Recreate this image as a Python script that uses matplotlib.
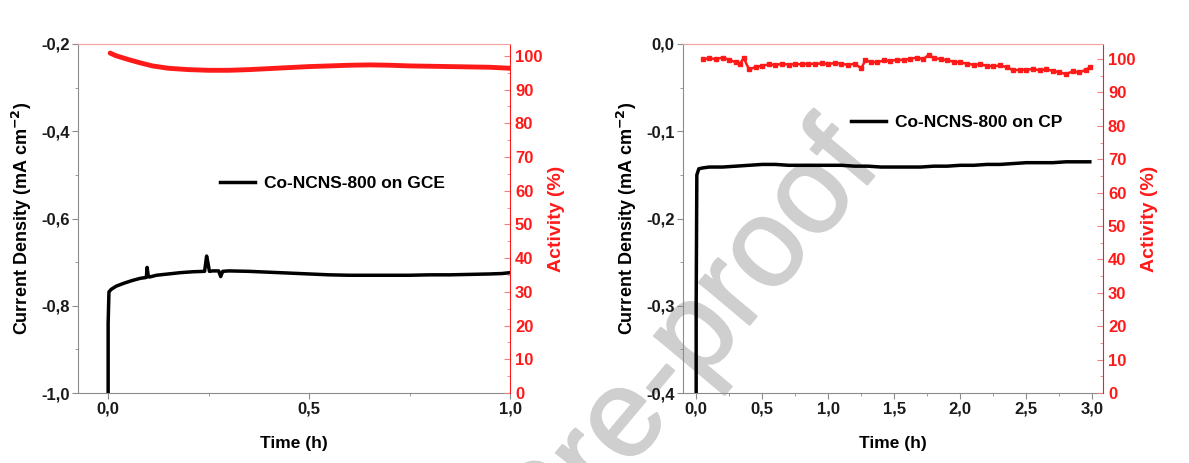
import numpy as np
import matplotlib
matplotlib.use("Agg")
import matplotlib.pyplot as plt
import matplotlib.patheffects as pe
from matplotlib.ticker import MultipleLocator, FuncFormatter

plt.rcParams['font.family'] = ['Liberation Sans', 'DejaVu Sans']
plt.rcParams['font.weight'] = 'bold'
plt.rcParams['axes.labelweight'] = 'bold'
plt.rcParams['mathtext.default'] = 'bf'

# left panel: Co-NCNS-800 on GCE
gce_t = [0.0, 0.0, 0.002, 0.008, 0.02, 0.04, 0.06, 0.08, 0.095, 0.097, 0.1, 0.103,
         0.12, 0.15, 0.18, 0.21, 0.24, 0.245, 0.248, 0.252, 0.26, 0.275, 0.28, 0.285,
         0.3, 0.35, 0.4, 0.45, 0.5, 0.55, 0.6, 0.65, 0.7, 0.75, 0.8, 0.85, 0.9, 0.95,
         0.98, 1.0]
gce_j = [-1.0, -0.84, -0.768, -0.762, -0.755, -0.748, -0.742, -0.737, -0.735, -0.712,
         -0.733, -0.734, -0.73, -0.727, -0.724, -0.722, -0.721, -0.686, -0.70, -0.721,
         -0.72, -0.72, -0.733, -0.721, -0.72, -0.721, -0.723, -0.725, -0.727, -0.729,
         -0.73, -0.73, -0.73, -0.73, -0.729, -0.729, -0.728, -0.727, -0.726, -0.724]
gce_act_t = [0.005, 0.02, 0.05, 0.08, 0.11, 0.15, 0.2, 0.25, 0.3, 0.35, 0.4, 0.45,
             0.5, 0.55, 0.6, 0.65, 0.7, 0.75, 0.8, 0.85, 0.9, 0.95, 1.0]
gce_act = [100.8, 100.0, 98.9, 97.9, 97.0, 96.3, 95.9, 95.7, 95.7, 95.9, 96.2, 96.5,
           96.8, 97.0, 97.2, 97.3, 97.2, 97.0, 96.9, 96.8, 96.7, 96.6, 96.3]

# right panel: Co-NCNS-800 on CP
cp_t = [0.0, 0.0, 0.005, 0.02, 0.05, 0.1, 0.2, 0.3, 0.4, 0.5, 0.6, 0.7, 0.8, 0.9,
        1.0, 1.1, 1.2, 1.3, 1.4, 1.5, 1.6, 1.7, 1.8, 1.9, 2.0, 2.1, 2.2, 2.3, 2.4,
        2.5, 2.6, 2.7, 2.8, 2.9, 2.98]
cp_j = [-0.4, -0.3, -0.15, -0.143, -0.142, -0.141, -0.141, -0.14, -0.139, -0.138,
        -0.138, -0.139, -0.139, -0.139, -0.139, -0.139, -0.14, -0.14, -0.141, -0.141,
        -0.141, -0.141, -0.14, -0.14, -0.139, -0.139, -0.138, -0.138, -0.137, -0.136,
        -0.136, -0.136, -0.135, -0.135, -0.135]
cp_act_t = [0.05, 0.1, 0.15, 0.2, 0.25, 0.3, 0.33, 0.36, 0.4, 0.45, 0.5, 0.55, 0.6,
            0.65, 0.7, 0.75, 0.8, 0.85, 0.9, 0.95, 1.0, 1.05, 1.1, 1.15, 1.2, 1.25,
            1.28, 1.32, 1.37, 1.42, 1.47, 1.52, 1.57, 1.62, 1.67, 1.72, 1.76, 1.8,
            1.85, 1.9, 1.95, 2.0, 2.05, 2.1, 2.15, 2.2, 2.25, 2.3, 2.35, 2.4, 2.45,
            2.5, 2.55, 2.6, 2.65, 2.7, 2.75, 2.8, 2.85, 2.9, 2.95, 2.98]
cp_act = [100.0, 100.2, 100.0, 100.4, 99.8, 99.0, 98.5, 100.3, 96.9, 97.6, 98.0,
          98.4, 98.2, 98.6, 98.3, 98.5, 98.4, 98.6, 98.5, 98.7, 98.5, 98.8, 98.6,
          98.2, 98.6, 97.2, 99.6, 99.2, 99.0, 99.6, 99.4, 99.8, 99.7, 100.1, 100.4,
          100.0, 101.2, 100.3, 100.0, 99.6, 99.2, 99.0, 98.6, 98.3, 98.4, 98.0, 97.8,
          98.1, 97.6, 96.6, 96.8, 96.8, 97.0, 96.6, 96.9, 96.5, 96.0, 95.5, 96.3,
          96.0, 96.8, 97.5]

RED = '#ff1a1a'
GREY = '#8c8c8c'
comma = FuncFormatter(lambda v, p: f"{v:.1f}".replace('.', ','))
intfmt = FuncFormatter(lambda v, p: f"{v:.0f}")

fig = plt.figure(figsize=(11.89, 4.63), dpi=100)


def panel(rect, t, j, at, act, label, xlim, ylim, act_top, ymaj, xmaj, leg_anchor, red_style):
    ax = fig.add_axes(rect)
    ax.patch.set_visible(False)
    ax.plot(t, j, color='black', lw=2.5, label=label, zorder=3)
    ax.set_xlim(*xlim)
    ax.set_ylim(*ylim)
    ax.xaxis.set_major_locator(MultipleLocator(xmaj))
    ax.xaxis.set_minor_locator(MultipleLocator(xmaj / 2))
    ax.yaxis.set_major_locator(MultipleLocator(ymaj))
    ax.yaxis.set_minor_locator(MultipleLocator(ymaj / 2))
    ax.xaxis.set_major_formatter(comma)
    ax.yaxis.set_major_formatter(comma)
    ax.tick_params(which='both', direction='out', colors=GREY, labelcolor='#1a1a1a',
                   labelsize=12, pad=2)
    ax.tick_params(which='major', length=4)
    ax.tick_params(which='minor', length=2.5)
    for s in ['left', 'bottom']:
        ax.spines[s].set_color(GREY)
    ax.set_xlabel('Time (h)', fontsize=12.5, labelpad=14)
    ax.set_ylabel('Current Density (mA cm$^{-2}$)', fontsize=13, labelpad=5)
    ax.legend(loc='center right', bbox_to_anchor=leg_anchor, frameon=False,
              prop={'size': 12.5, 'weight': 'bold'}, handlelength=2.0,
              handletextpad=0.5)

    ax2 = ax.twinx()
    ax2.patch.set_visible(False)
    ax2.plot(at, act, color=RED, **red_style)
    ax2.set_ylim(0, act_top)
    ax2.yaxis.set_major_locator(MultipleLocator(10))
    ax2.yaxis.set_minor_locator(MultipleLocator(5))
    ax2.yaxis.set_major_formatter(intfmt)
    ax2.tick_params(which='both', direction='in', colors='#f08080', labelcolor=RED,
                    labelsize=12)
    ax2.tick_params(which='major', length=4)
    ax2.tick_params(which='minor', length=2.5)
    ax2.spines['right'].set_color(RED)
    ax2.spines['top'].set_color('#f4a0a0')
    ax2.spines['left'].set_visible(False)
    ax2.spines['bottom'].set_visible(False)
    ax.spines['top'].set_visible(False)
    ax.spines['right'].set_visible(False)
    ax2.set_ylabel('Activity (%)', color=RED, fontsize=14, labelpad=4)
    for a in (ax, ax2):
        for lab in a.get_xticklabels() + a.get_yticklabels():
            lab.set_fontweight('bold')
    return ax, ax2


panel([0.0656, 0.151, 0.3634, 0.754], gce_t, gce_j, gce_act_t, gce_act,
      'Co-NCNS-800 on GCE', (-0.075, 1.0), (-1.0, -0.2), 103.5, 0.2, 0.5, (0.885, 0.60),
      dict(lw=3.5, solid_capstyle='round'))
panel([0.5744, 0.151, 0.3533, 0.754], cp_t, cp_j, cp_act_t, cp_act,
      'Co-NCNS-800 on CP', (-0.1, 3.08), (-0.4, 0.0), 104.5, 0.1, 0.5,
      (0.94, 0.775), dict(lw=1.8, marker='s', ms=2.6))

# watermark, drawn behind the data
fig.text(0.742, 0.64, 'Journal Pre-proof', fontsize=90, fontweight='normal',
         color='#cfcfcf', rotation=50, rotation_mode='anchor', ha='right',
         va='baseline', zorder=-1,
         path_effects=[pe.withStroke(linewidth=1.5, foreground='#cfcfcf')])

fig.savefig('out.png', dpi=100)
